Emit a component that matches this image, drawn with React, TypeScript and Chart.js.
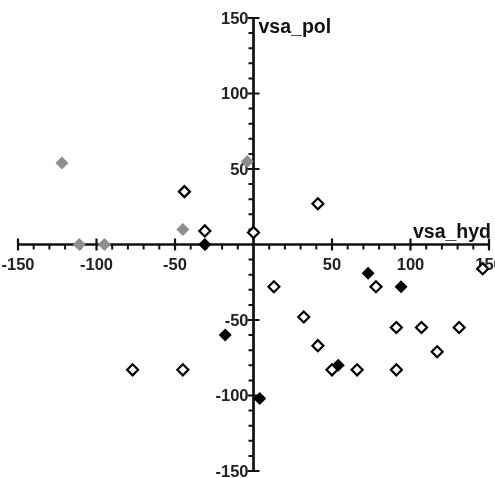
import React, { useEffect, useRef } from "react";
import { Chart, registerables } from "chart.js";

Chart.register(...registerables);

// Axis range and ticks
const AXIS_MIN = -150;
const AXIS_MAX = 150;
const MINOR_STEP = 10;
const MAJOR_TICKS = [-150, -100, -50, 50, 100, 150];
const X_TICK_LABELS = ["-150", "-100", "-50", "50", "100", "150"];
const Y_TICK_LABELS = ["-150", "-100", "-50", "50", "100", "150"];
const X_TITLE = "vsa_hyd";
const Y_TITLE = "vsa_pol";

// Series: grey filled diamonds
const greyX = [-122, -111, -95, -45, -4];
const greyY = [54, 0, 0, 10, 55];

// Series: open diamonds
const openX = [-44, -31, 0, 41, -77, -45, 13, 32, 41, 50, 66, 78, 91, 91, 107, 117, 131, 146];
const openY = [35, 9, 8, 27, -83, -83, -28, -48, -67, -83, -83, -28, -55, -83, -55, -71, -55, -16];

// Series: black filled diamonds
const blackX = [-31, -18, 4, 54, 73, 94];
const blackY = [0, -60, -102, -80, -19, -28];

const toPoints = (xs: number[], ys: number[]) => xs.map((x, i) => ({ x, y: ys[i] }));

const FONT = "'Liberation Sans', Arial, Helvetica, sans-serif";

const crossAxesPlugin = {
  id: "crossAxes",
  beforeDatasetsDraw(chart: any) {
    const { ctx } = chart;
    const xs = chart.scales.x;
    const ys = chart.scales.y;
    const x0 = xs.getPixelForValue(0);
    const y0 = ys.getPixelForValue(0);
    const xl = xs.getPixelForValue(AXIS_MIN);
    const xr = xs.getPixelForValue(AXIS_MAX);
    const yt = ys.getPixelForValue(AXIS_MAX);
    const yb = ys.getPixelForValue(AXIS_MIN);
    ctx.save();
    ctx.strokeStyle = "#111";
    ctx.lineCap = "butt";

    // axis lines
    ctx.lineWidth = 2.7;
    ctx.beginPath();
    ctx.moveTo(xl, y0);
    ctx.lineTo(xr, y0);
    ctx.moveTo(x0, yt);
    ctx.lineTo(x0, yb);
    ctx.stroke();

    // minor ticks
    ctx.lineWidth = 2;
    ctx.beginPath();
    for (let v = AXIS_MIN; v <= AXIS_MAX; v += MINOR_STEP) {
      if (v % 50 === 0) continue;
      const px = xs.getPixelForValue(v);
      ctx.moveTo(px, y0);
      ctx.lineTo(px, y0 + 5);
      const py = ys.getPixelForValue(v);
      ctx.moveTo(x0 - 5, py);
      ctx.lineTo(x0, py);
    }
    ctx.stroke();

    // major ticks
    ctx.lineWidth = 2.2;
    ctx.beginPath();
    MAJOR_TICKS.forEach((v) => {
      const px = xs.getPixelForValue(v);
      ctx.moveTo(px, y0 - 6);
      ctx.lineTo(px, y0 + 6);
      const py = ys.getPixelForValue(v);
      ctx.moveTo(x0 - 6, py);
      ctx.lineTo(x0 + 6, py);
    });
    ctx.stroke();

    // tick labels
    ctx.fillStyle = "#222";
    ctx.font = `bold 16.5px ${FONT}`;
    ctx.textAlign = "center";
    ctx.textBaseline = "middle";
    MAJOR_TICKS.forEach((v, i) => {
      ctx.fillText(X_TICK_LABELS[i], xs.getPixelForValue(v), y0 + 21);
    });
    ctx.textAlign = "right";
    MAJOR_TICKS.forEach((v, i) => {
      ctx.fillText(Y_TICK_LABELS[i], x0 - 5, ys.getPixelForValue(v) + 1);
    });

    // axis titles
    ctx.fillStyle = "#111";
    ctx.font = `bold 19.5px ${FONT}`;
    ctx.textBaseline = "alphabetic";
    ctx.textAlign = "left";
    ctx.fillText(Y_TITLE, x0 + 5, yt + 15);
    ctx.textAlign = "right";
    ctx.fillText(X_TITLE, xr + 2, y0 - 7);
    ctx.restore();
  },
};

export default function App() {
  const canvasRef = useRef<HTMLCanvasElement | null>(null);

  useEffect(() => {
    if (!canvasRef.current) return;
    const chart = new Chart(canvasRef.current, {
      type: "scatter",
      data: {
        datasets: [
          {
            label: "grey",
            data: toPoints(greyX, greyY),
            pointStyle: "rectRot",
            pointRadius: 6.5,
            backgroundColor: "#8e8e8e",
            borderColor: "#8e8e8e",
            borderWidth: 0,
          },
          {
            label: "open",
            data: toPoints(openX, openY),
            pointStyle: "rectRot",
            pointRadius: 5.5,
            backgroundColor: "#ffffff",
            borderColor: "#000000",
            borderWidth: 2.2,
          },
          {
            label: "black",
            data: toPoints(blackX, blackY),
            pointStyle: "rectRot",
            pointRadius: 6.5,
            backgroundColor: "#000000",
            borderColor: "#000000",
            borderWidth: 0,
          },
        ],
      },
      plugins: [crossAxesPlugin],
      options: {
        animation: false,
        responsive: false,
        maintainAspectRatio: false,
        clip: false,
        layout: {
          autoPadding: false,
          padding: { left: 18, right: 6, top: 18, bottom: 7 },
        },
        plugins: {
          legend: { display: false },
          tooltip: { enabled: false },
        },
        scales: {
          x: { type: "linear", display: false, min: AXIS_MIN, max: AXIS_MAX },
          y: { type: "linear", display: false, min: AXIS_MIN, max: AXIS_MAX },
        },
      } as any,
    });
    return () => chart.destroy();
  }, []);

  return (
    <div style={{ position: "fixed", left: 0, top: 0, width: 495, height: 478, background: "#fff" }}>
      <canvas ref={canvasRef} width={495} height={478} style={{ width: 495, height: 478 }} />
    </div>
  );
}
